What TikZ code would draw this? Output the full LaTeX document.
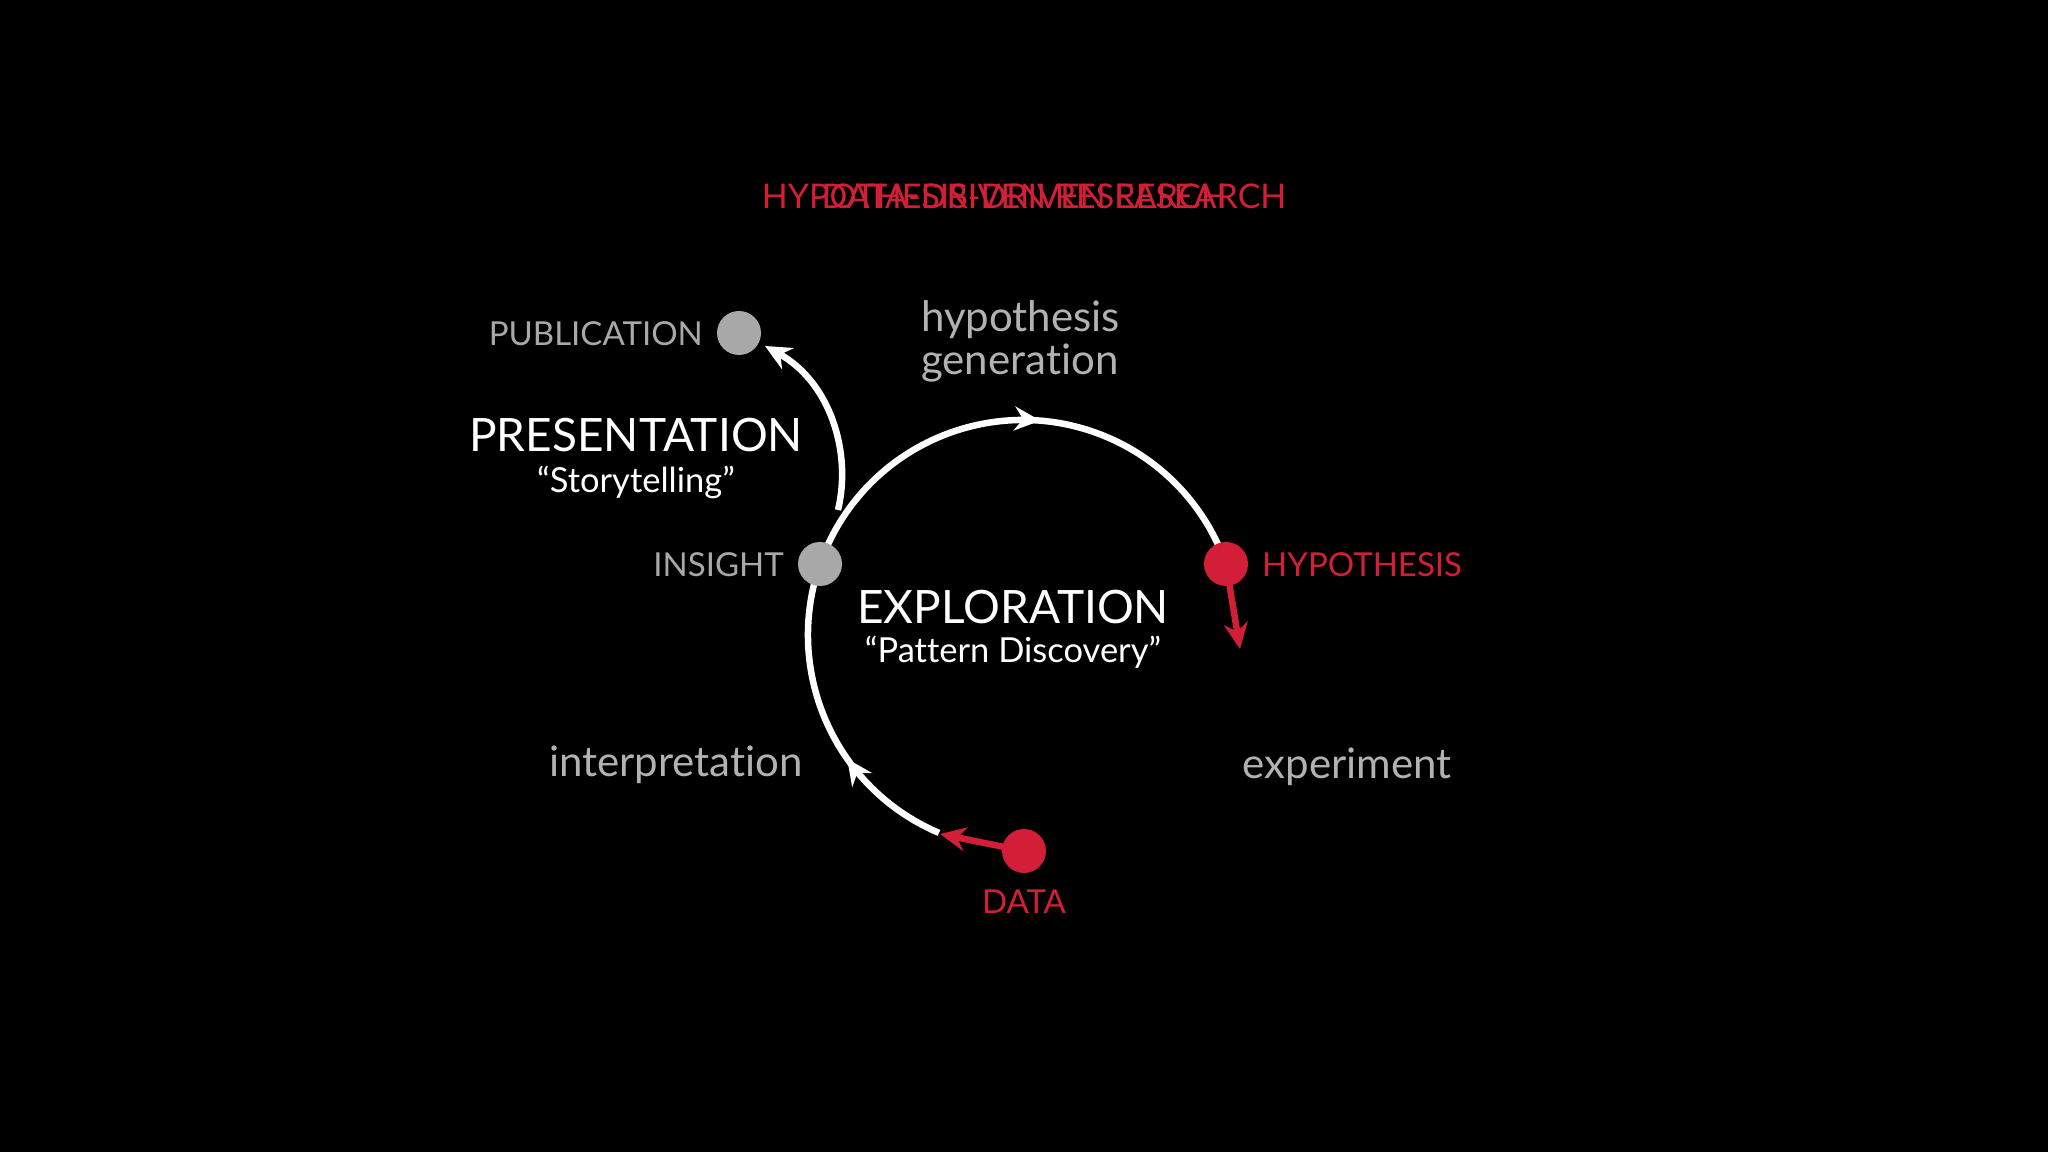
\documentclass[tikz,border=0pt]{standalone}
\usepackage{fontspec}
\setmainfont{Lato}[Ligatures=NoCommon]
\usetikzlibrary{arrows.meta,decorations.markings}
\definecolor{rd}{RGB}{210,30,55}
\definecolor{gr}{RGB}{168,168,168}
\definecolor{lgr}{RGB}{178,178,178}
\begin{document}
\begin{tikzpicture}[x=1pt,y=1pt,
  cyc/.style={white,line width=6.5pt},
  redarr/.style={rd,line width=6.5pt,-{Stealth[length=26pt,width=24pt]}},
  dotn/.style={circle,minimum size=44pt,inner sep=0pt},
  lab/.style={inner sep=0pt,font=\fontsize{33}{36}\selectfont},
  big/.style={inner sep=0pt,white,font=\fontsize{46}{50}\selectfont},
  sub/.style={inner sep=0pt,white,font=\fontsize{34.5}{38}\selectfont},
  low/.style={inner sep=0pt,lgr,font=\fontsize{42}{43}\selectfont},
  ttl/.style={inner sep=0pt,rd,font=\fontsize{34}{38}\selectfont}]
\fill[black] (0,0) rectangle (2048,1152);
\useasboundingbox (0,0) rectangle (2048,1152);
% title
\node[ttl] (t1) at (1024,956) {HYPOTHESIS-DRIVEN RESEARCH};
\node[ttl] (t2) at (1024,956) {DATA-DRIVEN RESEARCH};
% main cycle
\draw[cyc,postaction={decorate},decoration={markings,
  mark=at position 0.14 with {\arrow{Stealth[length=26pt,width=24pt]}},
  mark=at position 0.71 with {\arrow{Stealth[length=26pt,width=24pt]}}}]
  (1023,517) ++(247:215) coordinate (arcbeg) arc[start angle=247,end angle=19.3,radius=215];
% publication arc
\coordinate (pubs) at (838,642);
\coordinate (pube) at (765,806);
\draw[cyc,-{Stealth[length=26pt,width=24pt]}] (pubs) .. controls (852,700) and (830,770) .. (pube);
% dots
\node[dotn,fill=gr] (pub) at (739,819) {};
\node[dotn,fill=gr] (ins) at (820,588) {};
\node[dotn,fill=rd] (hyp) at (1226,588) {};
\node[dotn,fill=rd] (dat) at (1024,301) {};
\coordinate (hypend) at (1240,503);
\coordinate (datend) at (940,318);
\draw[redarr] (hyp.center) -- (hypend);
\draw[redarr] (dat.center) -- (datend);
% labels
\node[lab,gr,anchor=east] (publ) at (703,818) {PUBLICATION};
\node[lab,gr,anchor=east] (insl) at (784,587) {INSIGHT};
\node[lab,rd,anchor=west] (hypl) at (1262,587) {HYPOTHESIS};
\node[lab,rd] (datl) at (1024,250) {DATA};
\node[big] (pres) at (636,717) {PRESENTATION};
\node[sub] (story) at (636,670) {“Storytelling”};
\node[big] (expl) at (1013,545) {EXPLORATION};
\node[sub] (patt) at (1013,500) {“Pattern Discovery”};
\node[low,anchor=west,align=left] (hg) at (921,811) {hypothesis\\generation};
\node[low] (interp) at (676,387) {interpretation};
\node[low] (exper) at (1347,385) {experiment};
\end{tikzpicture}
\end{document}
